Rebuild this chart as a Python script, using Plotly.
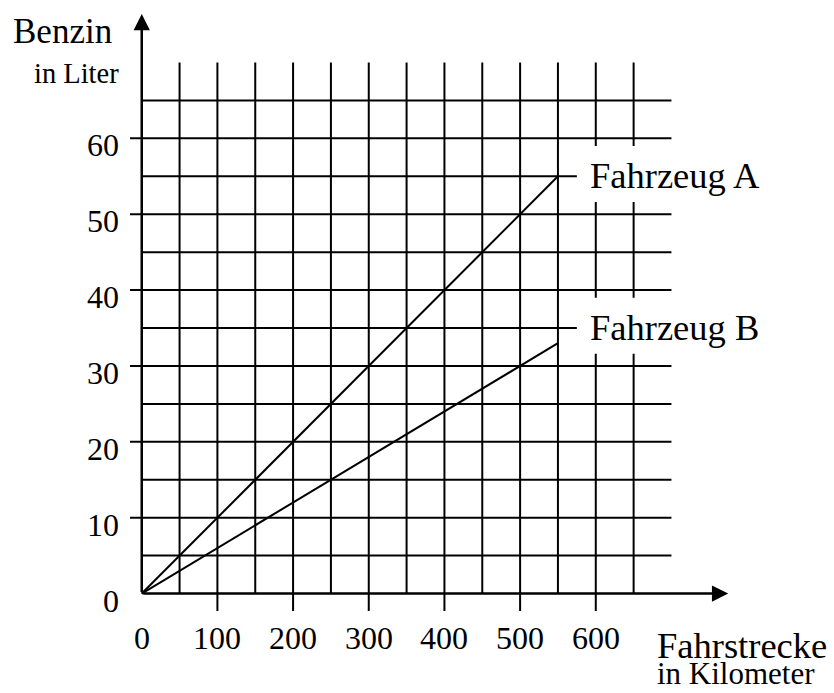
import plotly.graph_objects as go

# ---- data ----
distance_km = [0, 550]
fuel_A = [0, 55]
fuel_B = [0, 33]
x_ticks = [0, 100, 200, 300, 400, 500, 600]
y_ticks = [0, 10, 20, 30, 40, 50, 60]
x_grid = list(range(50, 700, 50))
y_grid = list(range(5, 70, 5))
series_labels = ["Fahrzeug A", "Fahrzeug B"]
label_levels = [55, 35]

W, H = 834, 693
XR = [-187.3, 914.8]
YR = [-13.11, 78.24]

FONT = "Liberation Serif, Times New Roman, serif"
BLACK = "black"


def py2paper(py):
    return 1 - py / H


def px2paper(px):
    return px / W


fig = go.Figure()

shapes = []
for gx in x_grid:
    y0 = -2.3 if gx % 100 == 0 else 0
    shapes.append(dict(type="line", x0=gx, x1=gx, y0=y0, y1=70, xref="x", yref="y",
                       line=dict(color=BLACK, width=2), layer="below"))
for gy in y_grid:
    x0 = -15.5 if gy % 10 == 0 else 0
    shapes.append(dict(type="line", x0=x0, x1=700, y0=gy, y1=gy, xref="x", yref="y",
                       line=dict(color=BLACK, width=2), layer="below"))
for lv in label_levels:
    shapes.append(dict(type="rect", x0=575, x1=820, y0=lv - 3.4, y1=lv + 4.0, xref="x", yref="y",
                       line=dict(width=0), fillcolor="white", layer="below"))
fig.update_layout(shapes=shapes)

for ys, name in zip([fuel_A, fuel_B], series_labels):
    fig.add_trace(go.Scatter(x=distance_km, y=ys, mode="lines", name=name,
                             line=dict(color=BLACK, width=2), showlegend=False,
                             hoverinfo="skip"))

ann = []
ann.append(dict(x=0, y=76.4, ax=0, ay=0, xref="x", yref="y", axref="x", ayref="y",
                text="", showarrow=True, arrowhead=2, arrowsize=1.3, arrowwidth=2.5,
                arrowcolor=BLACK))
ann.append(dict(x=775, y=0, ax=0, ay=0, xref="x", yref="y", axref="x", ayref="y",
                text="", showarrow=True, arrowhead=2, arrowsize=1.3, arrowwidth=2.5,
                arrowcolor=BLACK))

for t in x_ticks:
    ann.append(dict(x=t, y=py2paper(638), xref="x", yref="paper", text=str(t),
                    showarrow=False, xanchor="center", yanchor="middle",
                    font=dict(family=FONT, size=32, color=BLACK)))
for t in y_ticks:
    ann.append(dict(x=px2paper(121), y=t, xref="paper", yref="y", text=str(t),
                    showarrow=False, xanchor="right", yanchor="middle", yshift=-7,
                    font=dict(family=FONT, size=32, color=BLACK)))

for lv, name in zip(label_levels, series_labels):
    ann.append(dict(x=px2paper(588), y=lv, xref="paper", yref="y", text=name,
                    showarrow=False, xanchor="left", yanchor="middle", yshift=1,
                    font=dict(family=FONT, size=36.5, color=BLACK)))

ann.append(dict(x=px2paper(11), y=py2paper(31), xref="paper", yref="paper", text="Benzin",
                showarrow=False, xanchor="left", yanchor="middle",
                font=dict(family=FONT, size=35, color=BLACK)))
ann.append(dict(x=px2paper(121), y=py2paper(74), xref="paper", yref="paper", text="in Liter",
                showarrow=False, xanchor="right", yanchor="middle",
                font=dict(family=FONT, size=28.5, color=BLACK)))
ann.append(dict(x=px2paper(655), y=py2paper(645), xref="paper", yref="paper", text="Fahrstrecke",
                showarrow=False, xanchor="left", yanchor="middle",
                font=dict(family=FONT, size=36.5, color=BLACK)))
ann.append(dict(x=px2paper(655), y=0, xref="paper", yref="paper", text="in Kilometer",
                showarrow=False, xanchor="left", yanchor="bottom",
                font=dict(family=FONT, size=31, color=BLACK)))

fig.update_layout(
    annotations=ann,
    width=W, height=H,
    margin=dict(l=0, r=0, t=0, b=0),
    paper_bgcolor="white", plot_bgcolor="white",
    xaxis=dict(range=XR, visible=False, showgrid=False, zeroline=False, fixedrange=True),
    yaxis=dict(range=YR, visible=False, showgrid=False, zeroline=False, fixedrange=True),
)

fig.write_html("out.html", config={"displayModeBar": False},
               post_script="document.body.style.margin='0';document.body.style.overflow='hidden';")
